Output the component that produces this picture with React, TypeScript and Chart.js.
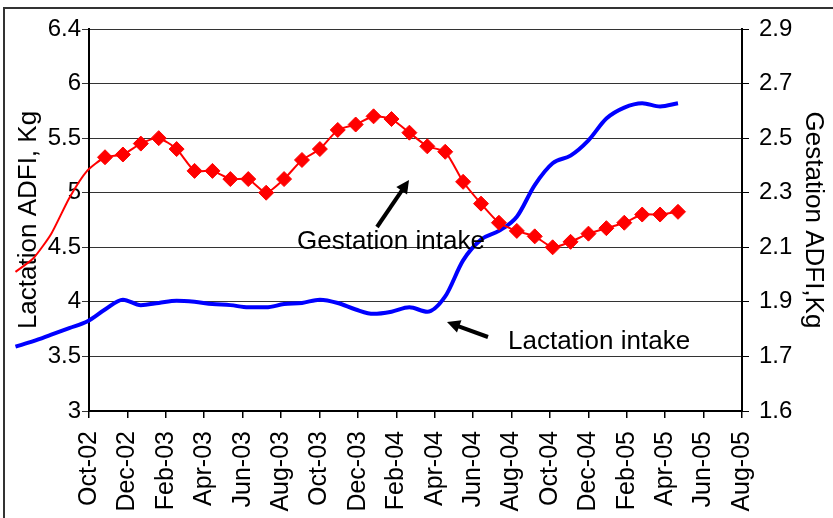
import React, { useEffect, useRef } from 'react';
import { Chart, registerables } from 'chart.js';

Chart.register(...registerables);

const FONT = '"Liberation Sans", Arial, Helvetica, sans-serif';

// X axis tick labels (every two months)
const monthTickLabels = [
  'Oct-02', 'Dec-02', 'Feb-03', 'Apr-03', 'Jun-03', 'Aug-03', 'Oct-03', 'Dec-03', 'Feb-04',
  'Apr-04', 'Jun-04', 'Aug-04', 'Oct-04', 'Dec-04', 'Feb-05', 'Apr-05', 'Jun-05', 'Aug-05',
];
// Y axis tick labels as printed on the figure
const leftTickLabels = ['3', '3.5', '4', '4.5', '5', '5.5', '6', '6.4'];
const rightTickLabels = ['1.6', '1.7', '1.9', '2.1', '2.3', '2.5', '2.7', '2.9'];

// Four-week periods. The first periods of the gestation curve are drawn without markers.
const unmarkedLead = 5;
const gestationIntake = [
  2.01, 2.06, 2.15, 2.28, 2.38,
  2.43, 2.44, 2.48, 2.50, 2.46, 2.38, 2.38, 2.35, 2.35, 2.30,
  2.35, 2.42, 2.46, 2.53, 2.55, 2.58, 2.57, 2.52, 2.47, 2.45,
  2.34, 2.26, 2.19, 2.16, 2.14, 2.10, 2.12, 2.15, 2.17, 2.19,
  2.22, 2.22, 2.23,
];
const lactationIntake = [
  3.59, 3.64, 3.70, 3.76, 3.82,
  3.93, 4.02, 3.97, 3.99, 4.01, 4.00, 3.98, 3.97, 3.95, 3.95,
  3.98, 3.99, 4.02, 3.99, 3.93, 3.89, 3.91, 3.95, 3.91, 4.05,
  4.38, 4.57, 4.65, 4.78, 5.07, 5.27, 5.34, 5.48, 5.68, 5.78,
  5.82, 5.79, 5.82,
];

function drawArrow(ctx: CanvasRenderingContext2D, x1: number, y1: number, x2: number, y2: number) {
  const ang = Math.atan2(y2 - y1, x2 - x1);
  const headLen = 13;
  const headHalf = 6.5;
  const bx = x2 - headLen * Math.cos(ang);
  const by = y2 - headLen * Math.sin(ang);
  ctx.beginPath();
  ctx.lineWidth = 4;
  ctx.strokeStyle = '#000';
  ctx.moveTo(x1, y1);
  ctx.lineTo(bx + Math.cos(ang) * 2, by + Math.sin(ang) * 2);
  ctx.stroke();
  ctx.beginPath();
  ctx.fillStyle = '#000';
  ctx.moveTo(x2, y2);
  ctx.lineTo(bx + headHalf * Math.sin(ang), by - headHalf * Math.cos(ang));
  ctx.lineTo(bx - headHalf * Math.sin(ang), by + headHalf * Math.cos(ang));
  ctx.closePath();
  ctx.fill();
}

const annotationPlugin = {
  id: 'textAnnotations',
  afterDatasetsDraw(chart: any) {
    const ctx: CanvasRenderingContext2D = chart.ctx;
    ctx.save();
    ctx.font = `26px ${FONT}`;
    ctx.fillStyle = '#000';
    ctx.textAlign = 'left';
    ctx.textBaseline = 'alphabetic';
    ctx.fillText('Gestation intake', 297, 249);
    ctx.fillText('Lactation intake', 508, 349);
    drawArrow(ctx, 377, 227, 409, 180);
    drawArrow(ctx, 488, 337, 447, 322);
    ctx.restore();
  },
};

export default function App() {
  const ref = useRef<HTMLCanvasElement | null>(null);

  useEffect(() => {
    if (!ref.current) return;
    const chart = new Chart(ref.current, {
      type: 'line',
      data: {
        datasets: [
          {
            label: 'Gestation intake',
            data: gestationIntake.map((v, i) => ({ x: i, y: v })),
            xAxisID: 'xd',
            yAxisID: 'y2',
            borderColor: '#ff0000',
            backgroundColor: '#ff0000',
            borderWidth: 2,
            pointStyle: 'rectRot',
            pointRadius: gestationIntake.map((_, i) => (i < unmarkedLead ? 0 : 7.5)),
            pointBorderWidth: 1,
            pointBorderColor: '#ff0000',
            pointBackgroundColor: '#ff0000',
            tension: 0.2,
            clip: false as any,
          },
          {
            label: 'Lactation intake',
            data: lactationIntake.map((v, i) => ({ x: i, y: v })),
            xAxisID: 'xd',
            yAxisID: 'y',
            borderColor: '#0000ff',
            backgroundColor: '#0000ff',
            borderWidth: 4,
            pointRadius: 0,
            cubicInterpolationMode: 'monotone',
            clip: false as any,
          },
        ],
      },
      options: {
        responsive: false,
        animation: false,
        devicePixelRatio: 1,
        layout: { padding: { top: 29, left: 0, right: 0, bottom: 0 } },
        plugins: {
          legend: { display: false },
          tooltip: { enabled: false },
          title: { display: false },
        },
        scales: {
          x: {
            type: 'linear',
            position: 'bottom',
            min: 0,
            max: 34,
            ticks: {
              stepSize: 2,
              autoSkip: false,
              minRotation: 90,
              maxRotation: 90,
              padding: 13,
              color: '#000',
              font: { family: FONT, size: 25 },
              callback: (_v: any, i: number) => monthTickLabels[i],
            },
            grid: { drawOnChartArea: false, drawTicks: true, tickLength: 7, color: '#000', lineWidth: 1.5 },
            border: { display: true, color: '#000', width: 2 },
            afterFit: (s: any) => { s.height = 107; },
          },
          xd: {
            type: 'linear',
            display: false,
            bounds: 'data',
            afterDataLimits: (s: any) => { s.min = 4.106; s.max = 40.575; },
          },
          y: {
            type: 'linear',
            position: 'left',
            min: 3,
            max: 6.5,
            ticks: {
              stepSize: 0.5,
              padding: 1,
              color: '#000',
              font: { family: FONT, size: 24 },
              callback: (_v: any, i: number) => leftTickLabels[i],
            },
            grid: { color: '#333', lineWidth: 1, tickLength: 7, drawTicks: true },
            border: { display: true, color: '#000', width: 2 },
            title: {
              display: true,
              text: 'Lactation ADFI, Kg',
              color: '#000',
              font: { family: FONT, size: 26 },
              padding: { top: 13, bottom: 0 },
            },
            afterFit: (s: any) => { s.width = 89; },
          },
          y2: {
            type: 'linear',
            position: 'right',
            min: 1.5,
            max: 2.9,
            ticks: {
              stepSize: 0.2,
              padding: 10,
              color: '#000',
              font: { family: FONT, size: 24 },
              callback: (_v: any, i: number) => rightTickLabels[i],
            },
            grid: { drawOnChartArea: false, drawTicks: true, tickLength: 7, color: '#000', lineWidth: 1 },
            border: { display: true, color: '#000', width: 2 },
            title: {
              display: true,
              text: 'Gestation ADFI,Kg',
              color: '#000',
              font: { family: FONT, size: 26 },
              padding: { top: 4, bottom: 0 },
            },
            afterFit: (s: any) => { s.width = 91; },
          },
        },
      } as any,
      plugins: [annotationPlugin],
    });
    return () => chart.destroy();
  }, []);

  return (
    <div style={{ position: 'fixed', left: 0, top: 0, width: 833, height: 518, overflow: 'hidden', background: '#fff' }}>
      <div
        style={{
          position: 'absolute', left: 3, top: 7, right: -10, bottom: -10,
          borderLeft: '2px solid #333', borderTop: '2px solid #333',
        }}
      />
      <canvas ref={ref} width={833} height={518} style={{ position: 'absolute', left: 0, top: 0 }} />
    </div>
  );
}
